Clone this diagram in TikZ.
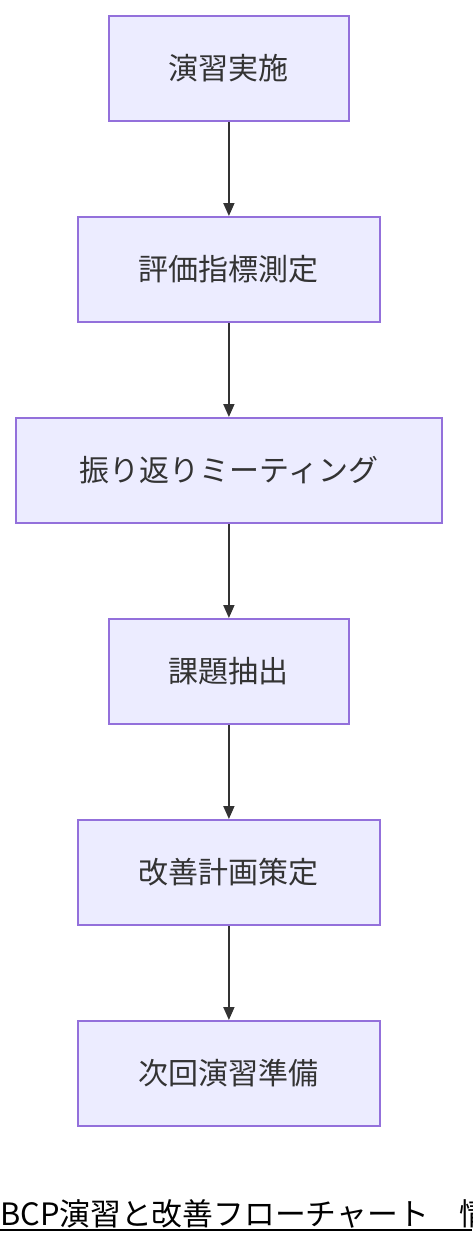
\documentclass[tikz,border=0pt]{standalone}
\usepackage{fontspec}
\setmainfont{Noto Sans CJK JP}
\newfontfamily\cjk{Noto Sans CJK JP}
\usetikzlibrary{arrows.meta}
\definecolor{boxfill}{HTML}{ECECFF}
\definecolor{boxline}{HTML}{9370DB}
\definecolor{arr}{HTML}{333333}
\tikzset{
  stepbox/.style={draw=boxline, fill=boxfill, line width=1.8pt, inner sep=0pt, anchor=north west, font=\cjk\fontsize{30}{34}\selectfont, text=arr},
  flow/.style={draw=arr, line width=1.8pt, -{Triangle[length=13pt,width=11pt]}}
}
\begin{document}
\begin{tikzpicture}[x=1pt,y=-1pt]
\useasboundingbox (0,0) rectangle (472,1244);
\fill[white] (0,0) rectangle (472,1244);
\node[stepbox, minimum width=240pt, minimum height=105pt] (a) at (108,15) {演習実施};
\node[stepbox, minimum width=302pt, minimum height=105pt] (b) at (77,216) {評価指標測定};
\node[stepbox, minimum width=426pt, minimum height=105pt] (c) at (15,417) {振り返りミーティング};
\node[stepbox, minimum width=240pt, minimum height=105pt] (d) at (108,618) {課題抽出};
\node[stepbox, minimum width=302pt, minimum height=105pt] (e) at (77,819) {改善計画策定};
\node[stepbox, minimum width=302pt, minimum height=105pt] (f) at (77,1020) {次回演習準備};
\draw[flow] (a.south) -- (b.north);
\draw[flow] (b.south) -- (c.north);
\draw[flow] (c.south) -- (d.north);
\draw[flow] (d.south) -- (e.north);
\draw[flow] (e.south) -- (f.north);
\begin{scope}
\clip (0,0) rectangle (472,1244);
\node[anchor=base west, inner sep=0pt, font=\cjk\fontsize{30.8}{34}\selectfont] (t) at (0,1225) {BCP演習と改善フローチャート　情};
\coordinate (u1) at (0,1230);
\coordinate (u2) at (472,1230);
\draw[line width=2pt] (u1) -- (u2);
\end{scope}
\end{tikzpicture}
\end{document}
